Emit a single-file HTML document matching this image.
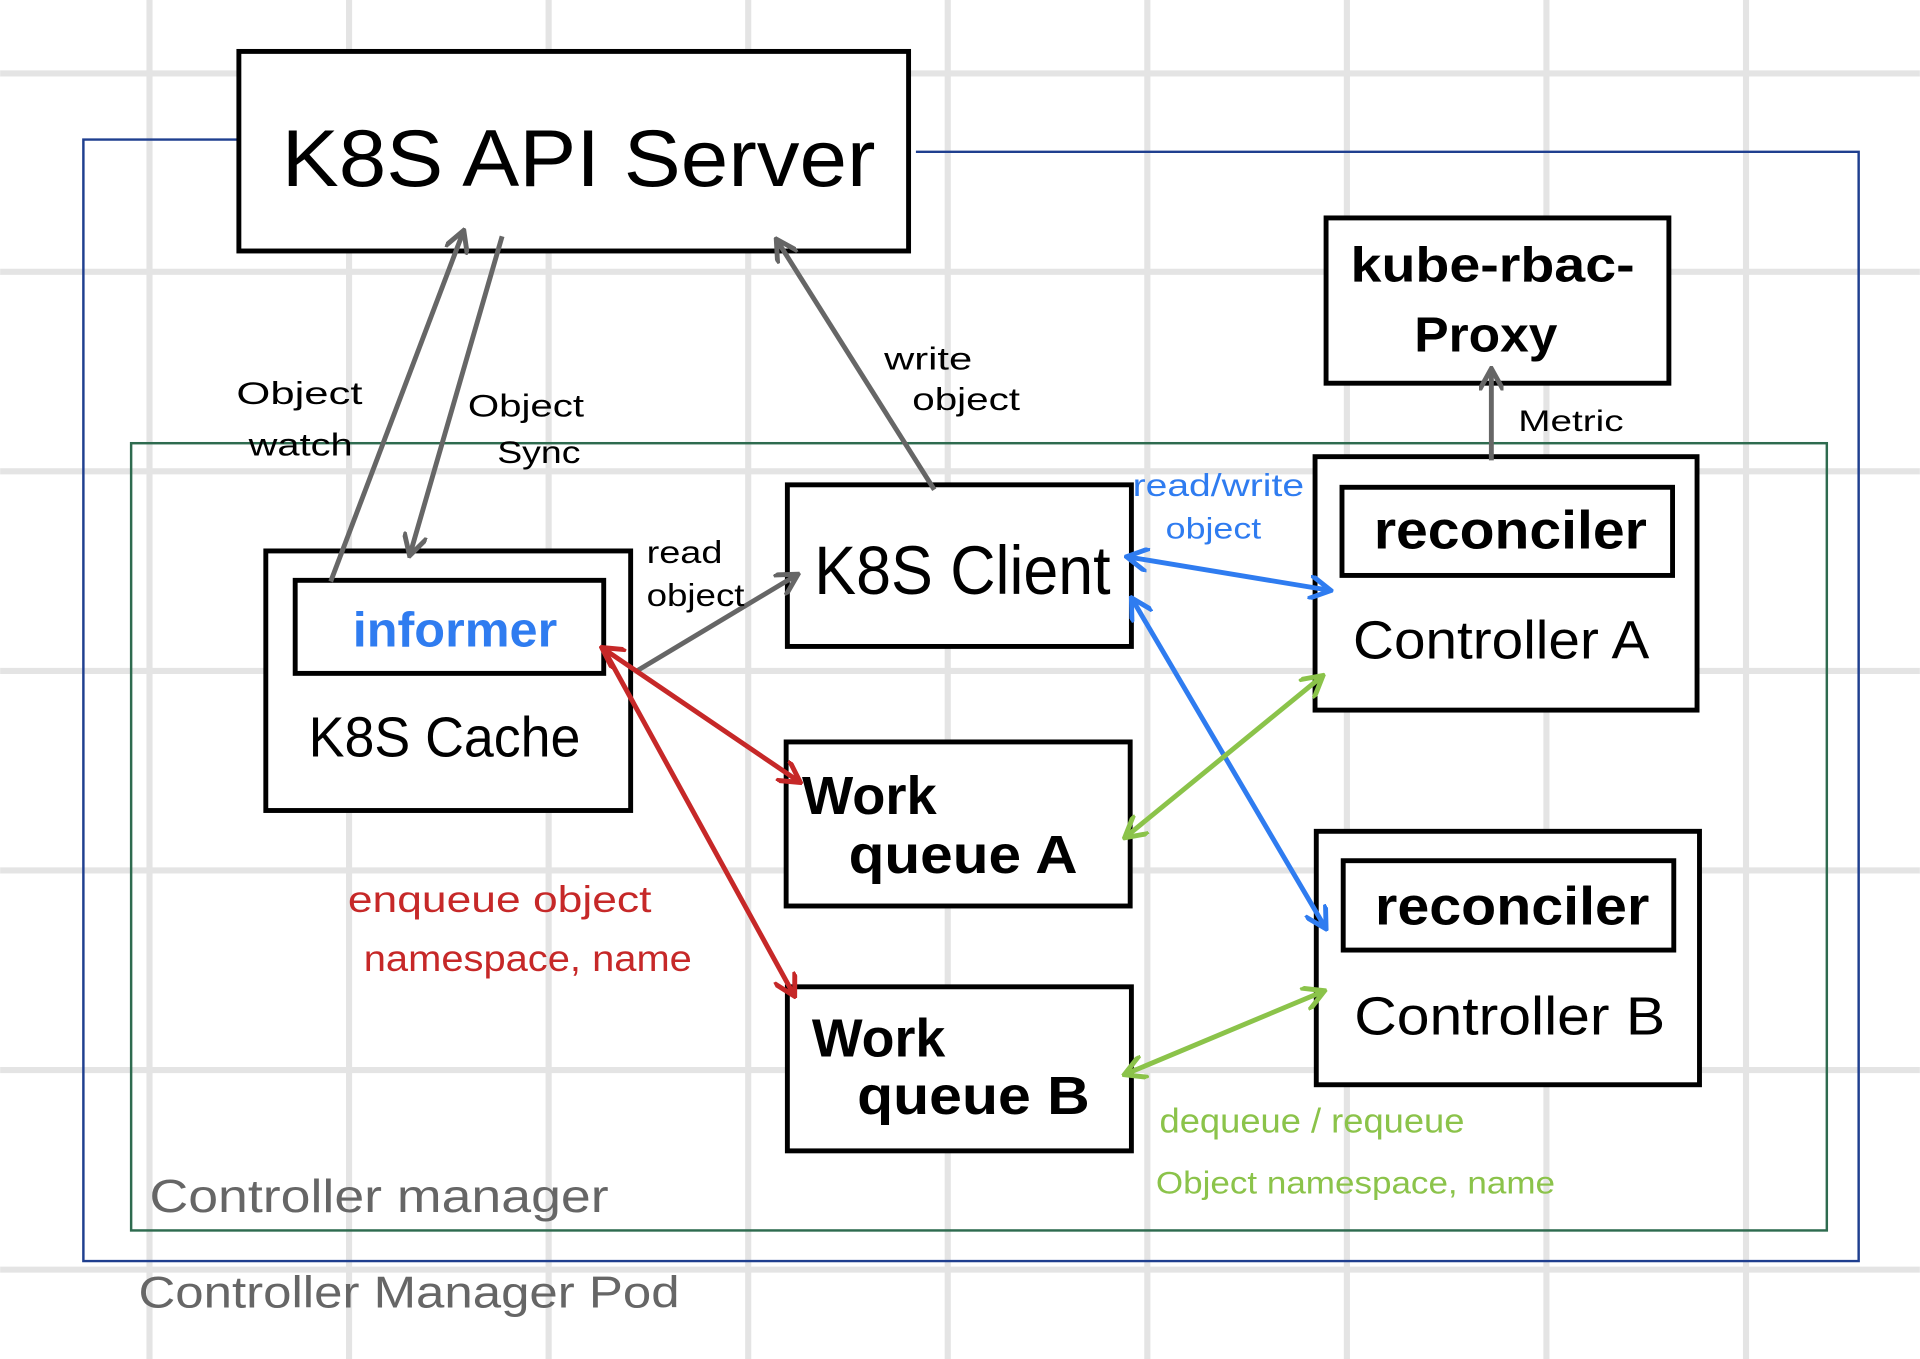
<!DOCTYPE html>
<html><head><meta charset="utf-8"><style>
html,body{margin:0;padding:0;background:#fff;}
svg{display:block;}
text{font-family:"Liberation Sans",sans-serif;}
</style></head><body>
<svg width="1920" height="1359" viewBox="0 0 1568 1110" xmlns="http://www.w3.org/2000/svg">
<defs>
<marker id="ag" viewBox="0 0 10 10" refX="8" refY="5" markerWidth="5" markerHeight="5" orient="auto-start-reverse"><path d="M0,0 L9,5 L0,10" fill="none" stroke="#666" stroke-width="2"/></marker>
<marker id="ar" viewBox="0 0 10 10" refX="8" refY="5" markerWidth="5" markerHeight="5" orient="auto-start-reverse"><path d="M0,0 L9,5 L0,10" fill="none" stroke="#c62828" stroke-width="2"/></marker>
<marker id="ab" viewBox="0 0 10 10" refX="8" refY="5" markerWidth="5" markerHeight="5" orient="auto-start-reverse"><path d="M0,0 L9,5 L0,10" fill="none" stroke="#2f7cf0" stroke-width="2"/></marker>
<marker id="aG" viewBox="0 0 10 10" refX="8" refY="5" markerWidth="5" markerHeight="5" orient="auto-start-reverse"><path d="M0,0 L9,5 L0,10" fill="none" stroke="#8bc34a" stroke-width="2"/></marker>
</defs>
<g stroke="#e4e4e4" stroke-width="5">
<line x1="122" y1="0" x2="122" y2="1110"/><line x1="285" y1="0" x2="285" y2="1110"/><line x1="448" y1="0" x2="448" y2="1110"/><line x1="611" y1="0" x2="611" y2="1110"/><line x1="774" y1="0" x2="774" y2="1110"/><line x1="937" y1="0" x2="937" y2="1110"/><line x1="1100" y1="0" x2="1100" y2="1110"/><line x1="1263" y1="0" x2="1263" y2="1110"/><line x1="1426" y1="0" x2="1426" y2="1110"/>
<line x1="0" y1="60" x2="1568" y2="60"/><line x1="0" y1="222" x2="1568" y2="222"/><line x1="0" y1="385" x2="1568" y2="385"/><line x1="0" y1="548" x2="1568" y2="548"/><line x1="0" y1="711" x2="1568" y2="711"/><line x1="0" y1="874" x2="1568" y2="874"/><line x1="0" y1="1037" x2="1568" y2="1037"/>
</g>
<path d="M195,114 L68,114 L68,1030 L1518,1030 L1518,124 L748,124" fill="none" stroke="#1f3f8f" stroke-width="2"/>
<rect x="107" y="362" width="1385" height="643" fill="none" stroke="#2e6b4f" stroke-width="2"/>
<g fill="#fff" stroke="#000" stroke-width="4">
<rect x="195" y="42" width="547" height="163"/>
<rect x="1083" y="178" width="280" height="135"/>
<rect x="217" y="450" width="298" height="212"/>
<rect x="241" y="474" width="252" height="76"/>
<rect x="643" y="396" width="281" height="132"/>
<rect x="642" y="606" width="281" height="134"/>
<rect x="643" y="806" width="281" height="134"/>
<rect x="1074" y="373" width="312" height="207"/>
<rect x="1096" y="398" width="270" height="72"/>
<rect x="1075" y="679" width="313" height="207"/>
<rect x="1097" y="703" width="270" height="73"/>
</g>
<g stroke="#666" stroke-width="4" fill="none">
<line x1="270" y1="475" x2="378" y2="190" marker-end="url(#ag)"/>
<line x1="410" y1="193" x2="335" y2="452" marker-end="url(#ag)"/>
<line x1="763" y1="400" x2="635" y2="197" marker-end="url(#ag)"/>
<line x1="1218" y1="376" x2="1218" y2="303" marker-end="url(#ag)"/>
<line x1="520" y1="548" x2="650" y2="470" marker-end="url(#ag)"/>
</g>
<g stroke="#c62828" stroke-width="4" fill="none">
<line x1="493" y1="530" x2="652" y2="638" marker-end="url(#ar)" marker-start="url(#ar)"/>
<line x1="493" y1="530" x2="648" y2="812" marker-end="url(#ar)"/>
</g>
<g stroke="#2f7cf0" stroke-width="4" fill="none">
<line x1="922" y1="455" x2="1085" y2="482" marker-end="url(#ab)" marker-start="url(#ab)"/>
<line x1="925" y1="490" x2="1082" y2="757" marker-end="url(#ab)" marker-start="url(#ab)"/>
</g>
<g stroke="#8bc34a" stroke-width="4" fill="none">
<line x1="920" y1="683" x2="1079" y2="553" marker-end="url(#aG)" marker-start="url(#aG)"/>
<line x1="920" y1="877" x2="1080" y2="810" marker-end="url(#aG)" marker-start="url(#aG)"/>
</g>
<g lengthAdjust="spacingAndGlyphs">
<text x="230" y="152" font-size="66" textLength="485" lengthAdjust="spacingAndGlyphs">K8S API Server</text>
<text x="1103" y="230" font-size="40" font-weight="bold" textLength="232" lengthAdjust="spacingAndGlyphs">kube-rbac-</text>
<text x="1155" y="287" font-size="40" font-weight="bold" textLength="117" lengthAdjust="spacingAndGlyphs">Proxy</text>
<text x="1240" y="352" font-size="24" textLength="86" lengthAdjust="spacingAndGlyphs">Metric</text>
<text x="288" y="528" font-size="40" font-weight="bold" fill="#2f7cf0" textLength="167" lengthAdjust="spacingAndGlyphs">informer</text>
<text x="252" y="618" font-size="46" textLength="222" lengthAdjust="spacingAndGlyphs">K8S Cache</text>
<text x="665" y="485" font-size="56" textLength="242" lengthAdjust="spacingAndGlyphs">K8S Client</text>
<text x="655" y="665" font-size="44" font-weight="bold" textLength="110" lengthAdjust="spacingAndGlyphs">Work</text>
<text x="693" y="713" font-size="44" font-weight="bold" textLength="187" lengthAdjust="spacingAndGlyphs">queue A</text>
<text x="663" y="863" font-size="44" font-weight="bold" textLength="109" lengthAdjust="spacingAndGlyphs">Work</text>
<text x="700" y="910" font-size="44" font-weight="bold" textLength="190" lengthAdjust="spacingAndGlyphs">queue B</text>
<text x="1122" y="448" font-size="44" font-weight="bold" textLength="223" lengthAdjust="spacingAndGlyphs">reconciler</text>
<text x="1105" y="538" font-size="44" textLength="242" lengthAdjust="spacingAndGlyphs">Controller A</text>
<text x="1123" y="755" font-size="44" font-weight="bold" textLength="224" lengthAdjust="spacingAndGlyphs">reconciler</text>
<text x="1106" y="845" font-size="44" textLength="254" lengthAdjust="spacingAndGlyphs">Controller B</text>
<text x="193" y="330" font-size="26" textLength="103" lengthAdjust="spacingAndGlyphs">Object</text>
<text x="203" y="372" font-size="26" textLength="85" lengthAdjust="spacingAndGlyphs">watch</text>
<text x="382" y="340" font-size="26" textLength="95" lengthAdjust="spacingAndGlyphs">Object</text>
<text x="406" y="378" font-size="26" textLength="68" lengthAdjust="spacingAndGlyphs">Sync</text>
<text x="722" y="302" font-size="26" textLength="72" lengthAdjust="spacingAndGlyphs">write</text>
<text x="745" y="335" font-size="26" textLength="88" lengthAdjust="spacingAndGlyphs">object</text>
<text x="528" y="460" font-size="26" textLength="62" lengthAdjust="spacingAndGlyphs">read</text>
<text x="528" y="495" font-size="26" textLength="80" lengthAdjust="spacingAndGlyphs">object</text>
<text x="925" y="405" font-size="26" fill="#2f7cf0" textLength="140" lengthAdjust="spacingAndGlyphs">read/write</text>
<text x="952" y="440" font-size="24" fill="#2f7cf0" textLength="78" lengthAdjust="spacingAndGlyphs">object</text>
<text x="284" y="745" font-size="30" fill="#c62828" textLength="248" lengthAdjust="spacingAndGlyphs">enqueue object</text>
<text x="297" y="793" font-size="30" fill="#c62828" textLength="268" lengthAdjust="spacingAndGlyphs">namespace, name</text>
<text x="947" y="925" font-size="28" fill="#8bc34a" textLength="249" lengthAdjust="spacingAndGlyphs">dequeue / requeue</text>
<text x="944" y="975" font-size="26" fill="#8bc34a" textLength="326" lengthAdjust="spacingAndGlyphs">Object namespace, name</text>
<text x="122" y="990" font-size="38" fill="#666" textLength="375" lengthAdjust="spacingAndGlyphs">Controller manager</text>
<text x="113" y="1068" font-size="36" fill="#666" textLength="442" lengthAdjust="spacingAndGlyphs">Controller Manager Pod</text>
</g>
</svg>
</body></html>
